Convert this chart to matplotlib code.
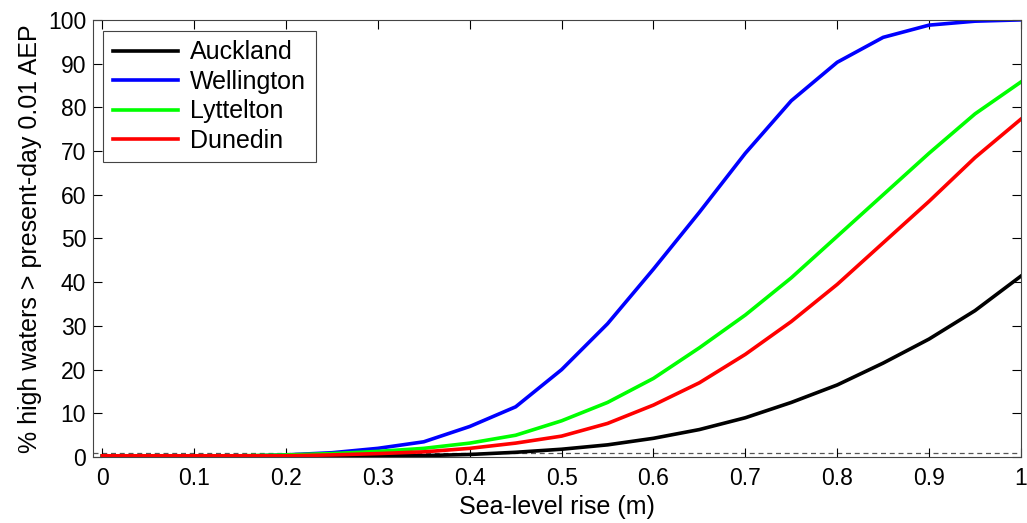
import numpy as np
import matplotlib
matplotlib.use("Agg")
import matplotlib.pyplot as plt

plt.rcParams['font.family'] = ['Liberation Sans', 'DejaVu Sans']

# Sea-level rise (m)
slr = [0.0, 0.05, 0.1, 0.15, 0.2, 0.25, 0.3, 0.35, 0.4, 0.45, 0.5,
       0.55, 0.6, 0.65, 0.7, 0.75, 0.8, 0.85, 0.9, 0.95, 1.0]

auckland = [0.2, 0.2, 0.2, 0.2, 0.2, 0.2, 0.25, 0.35, 0.6, 1.1, 1.8,
            2.8, 4.3, 6.3, 9.0, 12.5, 16.5, 21.5, 27.0, 33.5, 41.4]
wellington = [0.2, 0.2, 0.2, 0.2, 0.5, 1.0, 2.0, 3.5, 7.0, 11.5, 20.0,
              30.5, 43.0, 56.0, 69.5, 81.5, 90.3, 96.0, 98.8, 99.7, 100.0]
lyttelton = [0.3, 0.3, 0.3, 0.3, 0.5, 0.8, 1.3, 2.0, 3.2, 5.0, 8.3,
             12.5, 18.0, 25.0, 32.5, 41.0, 50.5, 60.0, 69.5, 78.5, 85.8]
dunedin = [0.3, 0.3, 0.3, 0.3, 0.3, 0.5, 0.8, 1.2, 2.0, 3.2, 4.8,
           7.7, 11.9, 17.0, 23.5, 31.0, 39.5, 49.0, 58.5, 68.5, 77.3]

threshold = 1.0

fig = plt.figure(figsize=(10.27, 5.23), dpi=100)
ax = fig.add_axes([0.0906, 0.126, 0.9035, 0.836])

ax.axhline(threshold, color='#555555', linestyle=(0, (4, 3)), linewidth=0.9, zorder=1)
ax.plot(slr, auckland, color='black', linewidth=2.6, label='Auckland')
ax.plot(slr, wellington, color='#0000ff', linewidth=2.6, label='Wellington')
ax.plot(slr, lyttelton, color='#00ff00', linewidth=2.6, label='Lyttelton')
ax.plot(slr, dunedin, color='#ff0000', linewidth=2.6, label='Dunedin')

ax.set_xlim(-0.01, 1.0)
ax.set_ylim(0, 100)
ax.set_xticks(np.arange(0, 1.01, 0.1))
ax.set_xticklabels(['0', '0.1', '0.2', '0.3', '0.4', '0.5', '0.6', '0.7', '0.8', '0.9', '1'])
ax.set_yticks(np.arange(0, 101, 10))
ax.tick_params(direction='in', top=True, right=True, labelsize=16.5, length=6.5, width=0.8)
ax.tick_params(axis='x', pad=7)
ax.tick_params(axis='y', pad=5)
for s in ax.spines.values():
    s.set_color('#444444')
    s.set_linewidth(0.8)

ax.set_xlabel('Sea-level rise (m)', fontsize=18, labelpad=4)
ax.set_ylabel('% high waters > present-day 0.01 AEP', fontsize=18, labelpad=4)

leg = ax.legend(loc='upper left', bbox_to_anchor=(0.011, 0.975), borderaxespad=0,
                fontsize=18, fancybox=False, edgecolor='#444444', framealpha=1,
                handlelength=2.6, handletextpad=0.5, labelspacing=0.22, borderpad=0.38)
leg.get_frame().set_linewidth(0.8)

fig.savefig('out.png', dpi=100)
